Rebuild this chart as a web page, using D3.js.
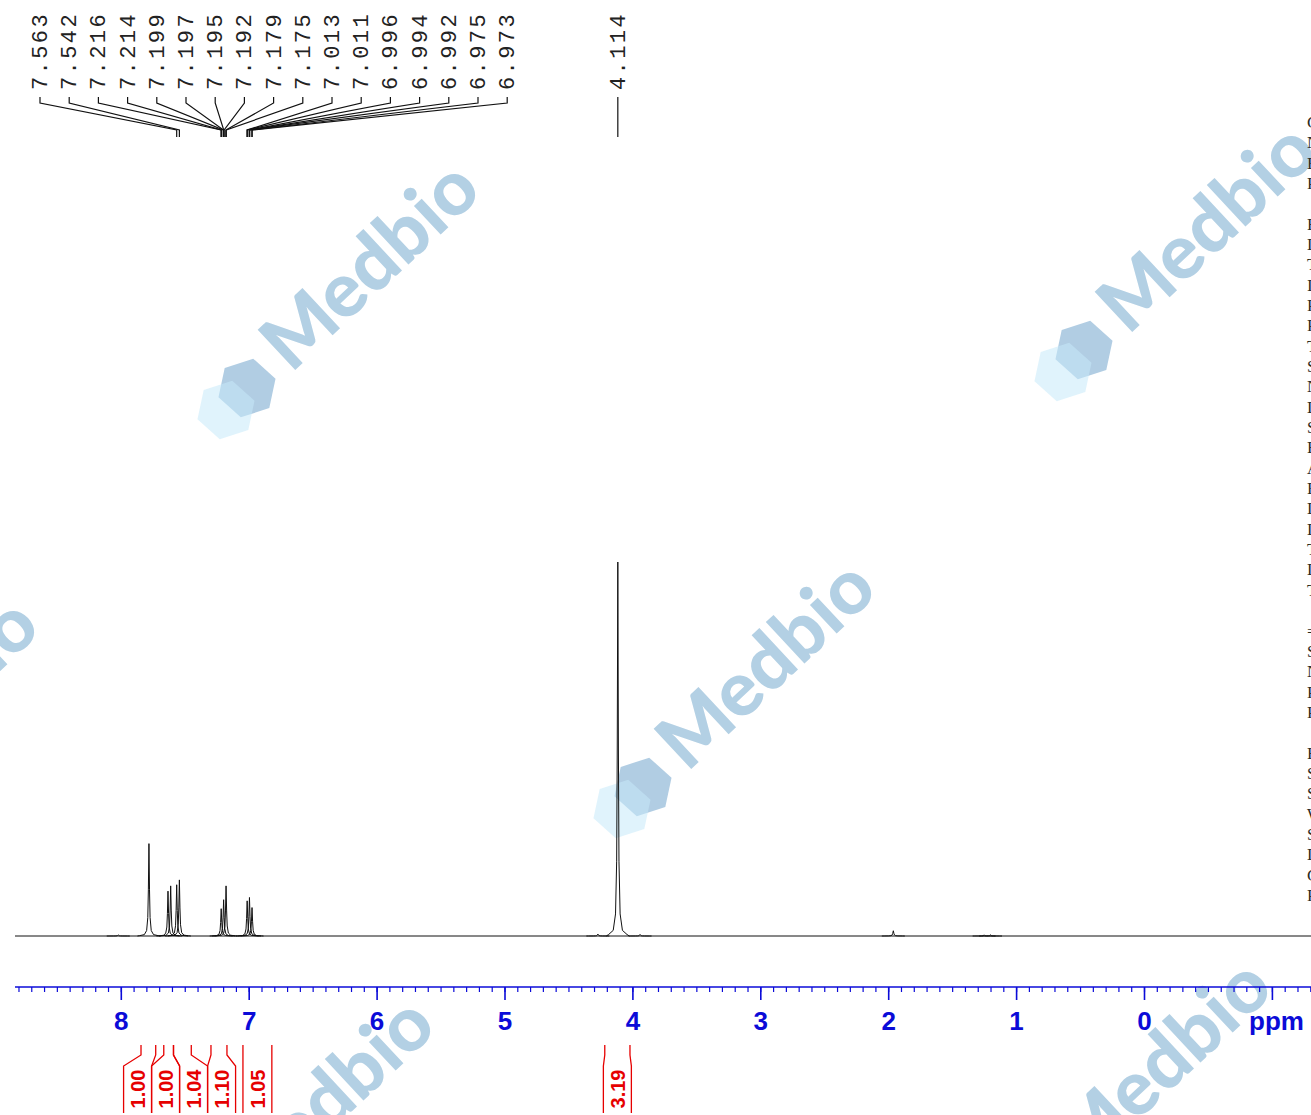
<!DOCTYPE html>
<html>
<head>
<meta charset="utf-8">
<script src="https://cdn.jsdelivr.net/npm/d3@7"></script>
<style>
  body { margin: 0; background: #fff; }
</style>
</head>
<body>
<div id="chart"></div>
<script>
// ---- data ----
// peak positions (ppm) and heights (4.114 singlet = 100)
var peakPpm = [8.02, 7.780, 7.631, 7.610, 7.563, 7.542, 7.215, 7.196, 7.177, 7.012, 6.994, 6.974, 4.27, 4.114, 3.94, 1.96, 1.25, 1.20];
var peakInt = [0.3, 24.7, 12.0, 13.4, 13.7, 15.0, 7.3, 9.7, 13.4, 9.4, 10.3, 7.6, 0.5, 100, 0.4, 1.4, 0.3, 0.3];

// picked peak labels (top of the plot)
var shiftLabels = ["7.563", "7.542", "7.216", "7.214", "7.199", "7.197", "7.195", "7.192",
  "7.179", "7.175", "7.013", "7.011", "6.996", "6.994", "6.992", "6.975", "6.973"];
var singletLabel = "4.114";

// integration regions (ppm) and their values
var intFrom = [7.842, 7.664, 7.588, 7.295, 7.045, 4.216];
var intTo = [7.727, 7.588, 7.449, 7.170, 6.819, 4.019];
var intValues = ["1.00", "1.00", "1.04", "1.10", "1.05", "3.19"];

// axis
var majorTicks = [8, 7, 6, 5, 4, 3, 2, 1, 0, -1];
var tickLabels = ["8", "7", "6", "5", "4", "3", "2", "1", "0", ""];

// acquisition / processing parameter listing (cut off at the right edge)
var paramLines = ["Current Data Parameters", "NAME", "EXPNO", "PROCNO", "",
  "F2 - Acquisition Parameters", "Date_", "Time", "INSTRUM", "PROBHD", "PULPROG", "TD",
  "SOLVENT", "NS", "DS", "SWH", "FIDRES", "AQ", "RG", "DW", "DE", "TE", "D1", "TD0", "",
  "======== CHANNEL f1 ========", "SFO1", "NUC1", "P1", "PLW1", "",
  "F2 - Processing parameters", "SI", "SF", "WDW", "SSB", "LB", "GB", "PC"];

// ---- layout ----
var width = 1311, height = 1115;
var axisY = 987;
var blue = "#0b0bd8", red = "#e60000";

var svg = d3.select("#chart").append("svg")
  .attr("width", width)
  .attr("height", height)
  .style("background", "#fff");

var x = d3.scaleLinear().domain([8, 0]).range([120.8, 1144]);
var y = d3.scaleLinear().domain([0, 100]).range([936, 562]);

// ---- watermark (drawn first, under everything) ----
function hexPoints(r, dx, dy) {
  return d3.range(6).map(function(k) {
    var a = (-78 + 60 * k) * Math.PI / 180;
    return [dx + r * Math.cos(a), dy + r * Math.sin(a)];
  }).join(" ");
}
function watermark(cx, cy) {
  var g = svg.append("g").attr("transform", "translate(" + cx + "," + cy + ")");
  g.append("polygon").attr("points", hexPoints(30, 0, 0)).attr("fill", "#b1cde3");
  g.append("polygon").attr("points", hexPoints(30, -21, 22))
    .attr("fill", "#c7e9fa").attr("fill-opacity", 0.55);
  g.append("text")
    .attr("transform", "translate(44,-14) rotate(-43)")
    .attr("font-family", "Lato, 'Open Sans', sans-serif")
    .attr("font-weight", 900)
    .attr("font-size", 76)
    .attr("textLength", 264)
    .attr("lengthAdjust", "spacingAndGlyphs")
    .attr("fill", "#b3d0e4")
    .text("Medbio");
}
var wmA = [396, 399], wmB = [-441, 437];
for (var i = -1; i <= 3; i++) {
  for (var j = -2; j <= 2; j++) {
    var cx = 247 + i * wmA[0] + j * wmB[0];
    var cy = 388 + i * wmA[1] + j * wmB[1];
    if (cx > -400 && cx < width + 60 && cy > 0 && cy < height + 320) watermark(cx, cy);
  }
}

// ---- spectrum ----
var line = d3.line().x(function(d) { return x(d[0]); }).y(function(d) { return y(d[1]); });

svg.append("path")
  .attr("d", line([[x.invert(15), 0], [x.invert(width), 0]]))
  .attr("fill", "none").attr("stroke", "#111").attr("stroke-width", 1);

// line shape of one peak: offsets in half-widths and fraction of the height
var hwhm = 0.0045;
var shapeOff = [-16, -8, -4, -2, -1, 0, 1, 2, 4, 8, 16];
var shapeFrac = [0.004, 0.015, 0.059, 0.2, 0.5, 1, 0.5, 0.2, 0.059, 0.015, 0.004];

peakPpm.forEach(function(p, k) {
  var pts = [[p + 20 * hwhm, 0]];
  shapeOff.forEach(function(o, n) { pts.push([p - o * hwhm, peakInt[k] * shapeFrac[n]]); });
  pts.push([p - 20 * hwhm, 0]);
  svg.append("path")
    .attr("d", line(pts))
    .attr("fill", "none").attr("stroke", "#111").attr("stroke-width", 1);
});

// ---- peak labels and leaders ----
var labelX0 = 40, labelStep = 29.2;
var lab = svg.append("g").attr("class", "peakLabels");

function peakLabel(txt, lx, px) {
  lab.append("text")
    .attr("transform", "translate(" + (lx + 7) + ",90) rotate(-90)")
    .attr("font-family", "'Liberation Mono', 'DejaVu Sans Mono', monospace")
    .attr("font-size", 22)
    .attr("letter-spacing", 2.4)
    .attr("fill", "#222")
    .text(txt);
  lab.append("path")
    .attr("d", "M" + lx + ",97V103L" + px + ",130V137")
    .attr("fill", "none").attr("stroke", "#111").attr("stroke-width", 1.2);
}
shiftLabels.forEach(function(s, k) {
  peakLabel(s, labelX0 + k * labelStep, x(+s));
});
peakLabel(singletLabel, x(+singletLabel), x(+singletLabel));

// ---- ppm axis ----
var minorTicks = d3.range(-13, 89).map(function(d) { return d / 10; });
var minorAxis = d3.axisBottom(x).tickValues(minorTicks).tickSize(5).tickFormat("");
var majorAxis = d3.axisBottom(x).tickValues(majorTicks).tickSize(13).tickPadding(11.5)
  .tickFormat(function(d, k) { return tickLabels[k]; });

var gMinor = svg.append("g").attr("transform", "translate(0," + axisY + ")").call(minorAxis);
var gMajor = svg.append("g").attr("transform", "translate(0," + axisY + ")").call(majorAxis);
[gMinor, gMajor].forEach(function(g) {
  g.select(".domain").remove();
  g.selectAll("line").attr("stroke", blue).attr("stroke-width", 1.2);
});
gMajor.selectAll("line").attr("stroke-width", 1.6);
gMajor.selectAll("text")
  .attr("fill", blue)
  .attr("font-family", "'Liberation Sans', Arial, sans-serif")
  .attr("font-weight", "bold")
  .attr("font-size", 26);

svg.append("line")
  .attr("x1", 15).attr("x2", width).attr("y1", axisY).attr("y2", axisY)
  .attr("stroke", blue).attr("stroke-width", 1.6);

svg.append("text")
  .attr("x", 1249).attr("y", 1030)
  .attr("fill", blue)
  .attr("font-family", "'Liberation Sans', Arial, sans-serif")
  .attr("font-weight", "bold")
  .attr("font-size", 26)
  .text("ppm");

// ---- integrals ----
var slotMin = 28;
var slots = intFrom.map(function(f, k) {
  var a = x(f), b = x(intTo[k]);
  return { k: k, a: a, b: b, c: (a + b) / 2, w: Math.max(b - a, slotMin) };
});
// spread label slots so they do not overlap
var clusters = slots.map(function(s) { return { items: [s], c: s.c, w: s.w }; });
var merged = true;
while (merged) {
  merged = false;
  for (var n = 0; n < clusters.length - 1; n++) {
    var A = clusters[n], B = clusters[n + 1];
    if (A.c + A.w / 2 > B.c - B.w / 2) {
      var items = A.items.concat(B.items);
      clusters.splice(n, 2, { items: items, c: d3.mean(items, function(s) { return s.c; }), w: A.w + B.w });
      merged = true;
      break;
    }
  }
}
clusters.forEach(function(cl) {
  var left = cl.c - cl.w / 2;
  cl.items.forEach(function(s) { s.l = left; s.r = left + s.w; left += s.w; });
});

var gInt = svg.append("g").attr("class", "integrals");
slots.forEach(function(s) {
  [[s.a, s.l], [s.b, s.r]].forEach(function(pr) {
    gInt.append("path")
      .attr("d", "M" + pr[0] + ",1045V1055L" + pr[1] + ",1066V1113")
      .attr("fill", "none").attr("stroke", red).attr("stroke-width", 1.3);
  });
  gInt.append("text")
    .attr("transform", "translate(" + ((s.l + s.r) / 2 + 7.3) + ",1089) rotate(-90)")
    .attr("text-anchor", "middle")
    .attr("fill", red)
    .attr("font-family", "'Liberation Sans', Arial, sans-serif")
    .attr("font-weight", "bold")
    .attr("font-size", 20)
    .text(intValues[s.k]);
});

// ---- parameter listing at the right edge ----
svg.append("g").selectAll("text")
  .data(paramLines)
  .enter()
  .append("text")
  .attr("x", 1307)
  .attr("y", function(d, k) { return 128 + k * 20.34; })
  .attr("font-family", "'Liberation Serif', 'DejaVu Serif', serif")
  .attr("font-size", 17)
  .attr("fill", "#2b2b1e")
  .text(function(d) { return d; });
</script>
</body>
</html>
